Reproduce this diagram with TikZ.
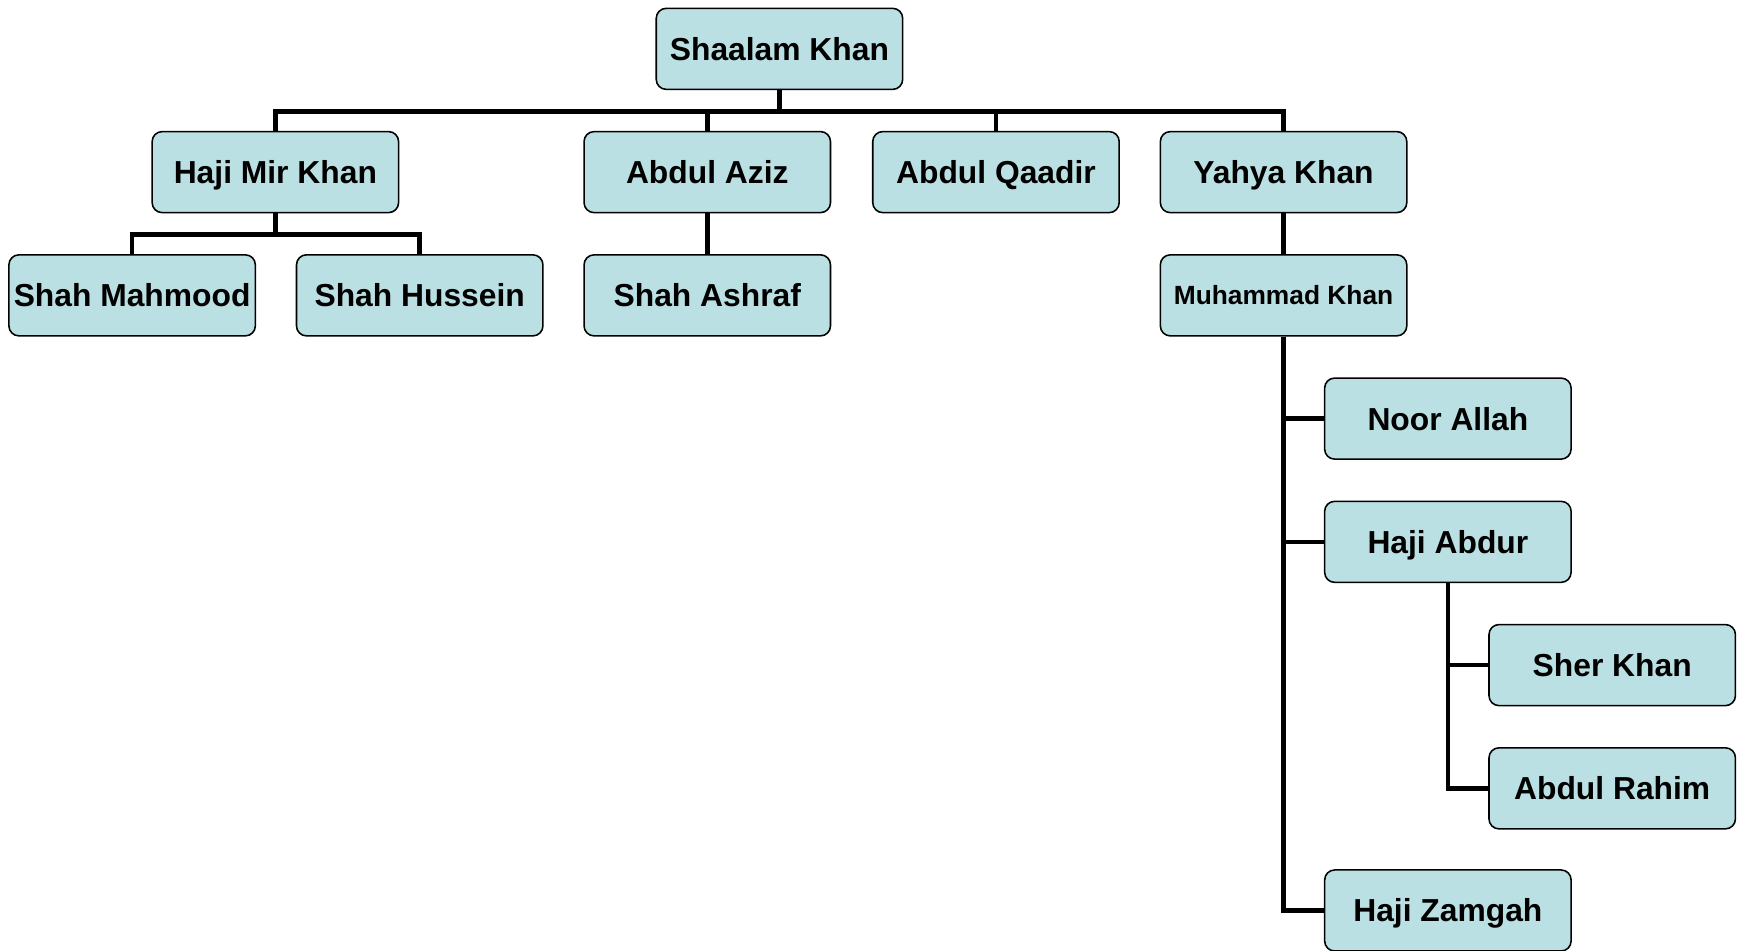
\documentclass[tikz,border=0pt]{standalone}
\usepackage{fontspec}
\setmainfont{Liberation Sans}
\usepackage{tikz}
\usetikzlibrary{positioning}
\definecolor{boxfill}{RGB}{187,224,227}

\begin{document}
\begin{tikzpicture}[x=0.02cm,y=-0.02cm,
	person/.style={draw,line width=0.8pt,fill=boxfill,rounded corners=0.18cm,
		minimum width=4.44cm,minimum height=1.46cm,inner sep=0pt,
		text height=11.7pt,text depth=0pt,
		font=\fontsize{16.3}{19}\selectfont\bfseries},
	link/.style={line width=2.4pt}]
	\useasboundingbox (0,0) rectangle (1568,856);
	% Draw the top and the first generation
	\node[person] (shaalam) at (702,44) {Shaalam Khan};
	\node[person] (haji_mir) at (248,155) {Haji Mir Khan};
	\node[person] (aziz) at (637,155) {Abdul Aziz};
	\node[person] (qaadir) at (897,155) {Abdul Qaadir};
	\node[person] (yahya) at (1156,155) {Yahya Khan};
	% Draw the second generation
	\node[person] (mahmood) at (119,266) {Shah Mahmood};
	\node[person] (hussein) at (378,266) {Shah Hussein};
	\node[person] (ashraf) at (637,266) {Shah Ashraf};
	\node[person,text height=9.7pt,font=\fontsize{13.5}{16}\selectfont\bfseries] (muhammad) at (1156,266) {Muhammad Khan};
	% Children of Muhammad Khan, hung to the right
	\node[person] (noor) at (1304,377) {Noor Allah};
	\node[person] (abdur) at (1304,488) {Haji Abdur};
	\node[person] (sher) at (1452,599) {Sher Khan};
	\node[person] (rahim) at (1452,710) {Abdul Rahim};
	\node[person] (zamgah) at (1304,820) {Haji Zamgah};
	% Draw the connectors
	\foreach \c in {haji_mir,aziz,qaadir,yahya}
		\draw[link] (shaalam.south) -- ++(0,19) -| (\c.north);
	\foreach \c in {mahmood,hussein}
		\draw[link] (haji_mir.south) -- ++(0,19) -| (\c.north);
	\draw[link] (aziz) -- (ashraf);
	\draw[link] (yahya) -- (muhammad);
	\foreach \c in {noor,abdur,zamgah}
		\draw[link] (muhammad.south) |- (\c.west);
	\foreach \c in {sher,rahim}
		\draw[link] (abdur.south) |- (\c.west);
\end{tikzpicture}
\end{document}
